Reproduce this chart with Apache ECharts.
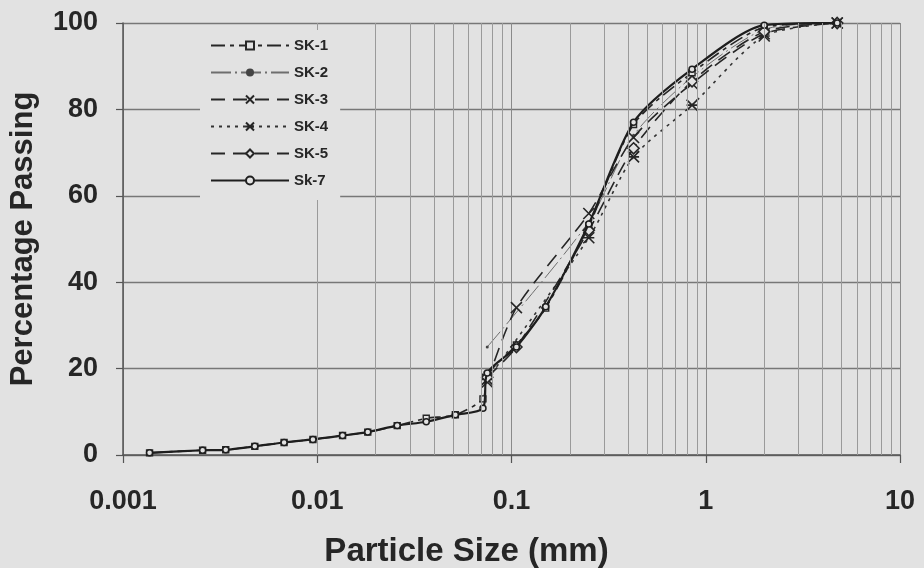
<!DOCTYPE html>
<html>
<head>
<meta charset="utf-8">
<script src="https://cdn.jsdelivr.net/npm/echarts@6/dist/echarts.min.js"></script>
<style>
html,body{margin:0;padding:0;background:#e2e2e2;}
#chart{width:924px;height:568px;}
</style>
</head>
<body>
<div id="chart"></div>
<script>
// ---- data (particle size in mm, percentage passing) ----
const hydroSizes = [0.00137, 0.00257, 0.00338, 0.00477, 0.00675, 0.0095, 0.0135, 0.0182, 0.0258, 0.0364, 0.0514, 0.0713];
const sieveSizes = [0.075, 0.106, 0.15, 0.25, 0.425, 0.85, 2.0, 4.75];

const sk1Hydro = [0.5, 1.1, 1.2, 2.0, 2.9, 3.6, 4.5, 5.3, 6.8, 8.5, 9.3, 13.0];
const sk1Sieve = [18.5, 25.5, 34.0, 53.0, 76.5, 88.5, 99.0, 100];

const sk7Hydro = [0.5, 1.1, 1.2, 2.0, 2.9, 3.6, 4.5, 5.3, 6.8, 7.7, 9.3, 10.8];
const sk7Sieve = [19.0, 25.0, 34.3, 53.5, 77.0, 89.3, 99.5, 100];

const sk2Sizes = [0.075, 0.25, 0.425, 0.85, 2.0, 4.75];
const sk2Pass  = [25.0, 54.0, 74.0, 87.5, 98.5, 100];

const sk3Sizes = [0.075, 0.106, 0.25, 0.425, 0.85, 2.0, 4.75];
const sk3Pass  = [16.9, 34.1, 55.9, 73.5, 86.0, 97.5, 100];

const sk4Sizes = [0.075, 0.25, 0.425, 0.85, 2.0, 4.75];
const sk4Pass  = [17.5, 50.3, 69.0, 81.0, 97.0, 100];

const sk5Sizes = [0.075, 0.106, 0.25, 0.425, 0.85, 2.0, 4.75];
const sk5Pass  = [18.0, 25.0, 52.0, 71.0, 86.5, 98.0, 100];

const seriesNames = ['SK-1', 'SK-2', 'SK-3', 'SK-4', 'SK-5', 'Sk-7'];
const xTickLabels = ['0.001', '0.01', '0.1', '1', '10'];
const yTickLabels = ['0', '20', '40', '60', '80', '100'];

// ---- helpers ----
function pairs(xs, ys) { return xs.map((x, i) => [x, ys[i]]); }

const BG = '#e2e2e2';
const INK = '#262626';
const FONT = '"Liberation Sans", Arial, sans-serif';

// minor vertical grid lines (2..9 x each decade)
const minorLines = [];
for (let d = -3; d <= 0; d++) {
  for (let m = 2; m <= 9; m++) minorLines.push({ xAxis: m * Math.pow(10, d) });
}

const X_PATH = 'path://M0,0L10,10M0,10L10,0';
const STAR_PATH = 'path://M0,0L10,10M0,10L10,0M0,5L10,5';

const option = {
  backgroundColor: BG,
  animation: false,
  textStyle: { fontFamily: FONT },
  grid: { left: 123, right: 24, top: 23, bottom: 113, containLabel: false, outerBoundsMode: 'none' },
  legend: {
    data: seriesNames,
    orient: 'vertical',
    left: 200,
    top: 30,
    padding: [8, 12, 12, 10],
    backgroundColor: BG,
    itemWidth: 78,
    itemHeight: 10,
    itemGap: 12,
    textStyle: { fontFamily: FONT, fontSize: 15, fontWeight: 'bold', color: INK },
    z: 10
  },
  xAxis: {
    type: 'log',
    logBase: 10,
    min: 0.001,
    max: 10,
    name: 'Particle Size (mm)',
    nameLocation: 'middle',
    nameGap: 80,
    nameTextStyle: { fontFamily: FONT, fontSize: 33, fontWeight: 'bold', color: INK, padding: [0, 90, 0, 0] },
    axisLine: { show: true, lineStyle: { color: '#555', width: 1.5 } },
    axisTick: { show: true, length: 8, lineStyle: { color: '#555', width: 1.2 } },
    axisLabel: {
      margin: 33, fontFamily: FONT, fontSize: 27, fontWeight: 'bold', color: INK,
      formatter: function (v) {
        const idx = Math.round(Math.log10(v)) + 3;
        return xTickLabels[idx] !== undefined ? xTickLabels[idx] : '';
      }
    },
    splitLine: { show: true, lineStyle: { color: '#8a8a8a', width: 1 } },
    minorTick: { show: false },
    minorSplitLine: { show: false }
  },
  yAxis: {
    type: 'value',
    min: 0,
    max: 100,
    interval: 20,
    name: 'Percentage Passing',
    nameLocation: 'middle',
    nameRotate: 90,
    nameGap: 84,
    nameTextStyle: { fontFamily: FONT, fontSize: 31, fontWeight: 'bold', color: INK },
    axisLine: { show: true, lineStyle: { color: '#555', width: 1.5 } },
    axisTick: { show: true, length: 7, lineStyle: { color: '#555', width: 1.2 } },
    axisLabel: {
      margin: 25, fontFamily: FONT, fontSize: 27, fontWeight: 'bold', color: INK,
      formatter: function (v) { return yTickLabels[Math.round(v / 20)]; }
    },
    splitLine: { show: true, lineStyle: { color: '#777', width: 1.4 } }
  },
  series: [
    {
      name: '_minorGrid',
      type: 'line',
      data: [],
      silent: true,
      z: 0,
      markLine: {
        silent: true,
        symbol: ['none', 'none'],
        label: { show: false },
        lineStyle: { color: '#9a9a9a', width: 1, type: 'solid' },
        emphasis: { disabled: true },
        animation: false,
        data: minorLines
      }
    },
    {
      name: 'SK-1',
      type: 'line',
      smooth: 0.25,
      data: pairs(hydroSizes.concat(sieveSizes), sk1Hydro.concat(sk1Sieve)),
      symbol: 'rect',
      symbolSize: 6,
      lineStyle: { color: INK, width: 1.6, type: [14, 5, 4, 5] },
      itemStyle: { color: BG, borderColor: INK, borderWidth: 1.4 },
      emphasis: { disabled: true },
      z: 3
    },
    {
      name: 'SK-2',
      type: 'line',
      smooth: 0.25,
      data: pairs(sk2Sizes, sk2Pass),
      symbol: 'circle',
      symbolSize: 3,
      lineStyle: { color: '#6e6e6e', width: 1, type: [20, 4, 2, 4] },
      itemStyle: { color: '#444', borderColor: '#444', borderWidth: 0 },
      emphasis: { disabled: true },
      z: 2
    },
    {
      name: 'SK-3',
      type: 'line',
      smooth: 0.25,
      data: pairs(sk3Sizes, sk3Pass),
      symbol: X_PATH,
      symbolSize: 11,
      lineStyle: { color: INK, width: 1.6, type: [14, 8] },
      itemStyle: { color: INK, borderColor: INK, borderWidth: 1.6 },
      emphasis: { disabled: true },
      z: 3
    },
    {
      name: 'SK-4',
      type: 'line',
      smooth: 0.25,
      data: pairs(sk4Sizes, sk4Pass),
      symbol: STAR_PATH,
      symbolSize: 11,
      lineStyle: { color: '#333', width: 1.6, type: [3, 5] },
      itemStyle: { color: INK, borderColor: INK, borderWidth: 1.6 },
      emphasis: { disabled: true },
      z: 3
    },
    {
      name: 'SK-5',
      type: 'line',
      smooth: 0.25,
      data: pairs(sk5Sizes, sk5Pass),
      symbol: 'diamond',
      symbolSize: 11,
      lineStyle: { color: INK, width: 1.6, type: [14, 8] },
      itemStyle: { color: BG, borderColor: INK, borderWidth: 1.6 },
      emphasis: { disabled: true },
      z: 3
    },
    {
      name: 'Sk-7',
      type: 'line',
      smooth: 0.25,
      data: pairs(hydroSizes.concat(sieveSizes), sk7Hydro.concat(sk7Sieve)),
      symbol: 'circle',
      symbolSize: 6,
      lineStyle: { color: '#1e1e1e', width: 2.2, type: 'solid' },
      itemStyle: { color: BG, borderColor: '#1e1e1e', borderWidth: 1.5 },
      emphasis: { disabled: true },
      z: 4
    }
  ]
};

const chart = echarts.init(document.getElementById('chart'), null, { renderer: 'canvas' });
chart.setOption(option);
</script>
</body>
</html>
